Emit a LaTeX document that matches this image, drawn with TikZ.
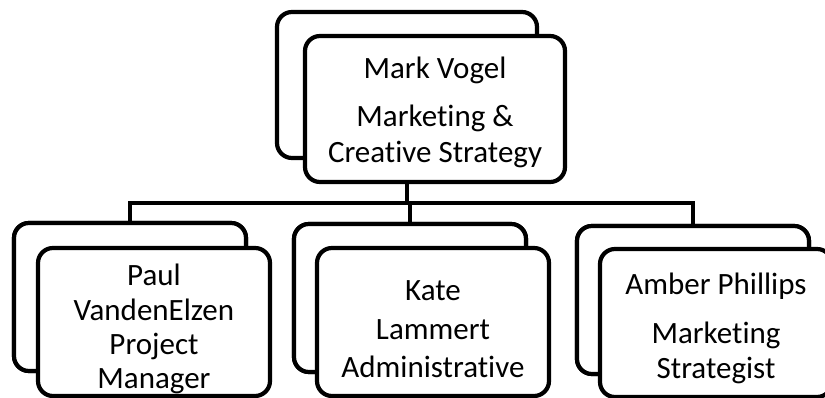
\documentclass[tikz,border=0pt]{standalone}
\usepackage{fontspec}
\setmainfont{Carlito}[Ligatures=NoCommon]
\usetikzlibrary{positioning}

\tikzset{
	card/.style={draw, line width=4.2pt, rounded corners=15pt, fill=white,
		minimum width=232pt, minimum height=148pt, inner sep=0pt},
	bigcard/.style={card, minimum width=260pt, minimum height=146pt},
	cardtext/.style={align=center, inner sep=0pt, font=\fontsize{31}{35}\selectfont},
	link/.style={line width=4.5pt}
}

\begin{document}
\begin{tikzpicture}[x=1pt, y=-1pt]
		%%%%% START %%%%%
		\useasboundingbox (0, 0) rectangle (825, 398);
		
		\coordinate (bar) at (0, 203);
		
		% back cards
		\node[bigcard] (mvBack) at (407, 85) {};
		\node[card] (pvBack) at (130, 297) {};
		\node[card] (klBack) at (410, 298) {};
		\node[card] (apBack) at (693, 300) {};
		
		% connectors
		\foreach \c in {pv, kl, ap}
			\draw[link] (mvBack.south) |- (\c Back.north |- bar) -- (\c Back.north);
		
		\node[card] (pvBack) at (130, 297) {};
		\node[card] (klBack) at (410, 298) {};
		\node[card] (apBack) at (693, 300) {};
		
		% front cards
		\node[bigcard] (mv) at (435, 109) {};
		\node[card] (pv) at (154, 322) {};
		\node[card] (kl) at (433, 322) {};
		\node[card] (ap) at (716, 323) {};
		
		\node[cardtext, yshift=-3pt] (mvText) at (mv.center) {Mark Vogel\\[13pt] Marketing \&\\[1pt] Creative Strategy};
		\node[cardtext, yshift=-7pt] (pvText) at (pv.center) {Paul\\[-0.5pt] VandenElzen\\[-1pt] Project\\[-1pt] Manager};
		\node[cardtext, yshift=-7pt] (klText) at (kl.center) {Kate\\[4pt] Lammert\\[3pt] Administrative};
		\node[cardtext, yshift=-5pt] (apText) at (ap.center) {Amber Phillips\\[14pt] Marketing\\ Strategist};
		
		%%%%% END %%%%%
	\end{tikzpicture}
\end{document}
